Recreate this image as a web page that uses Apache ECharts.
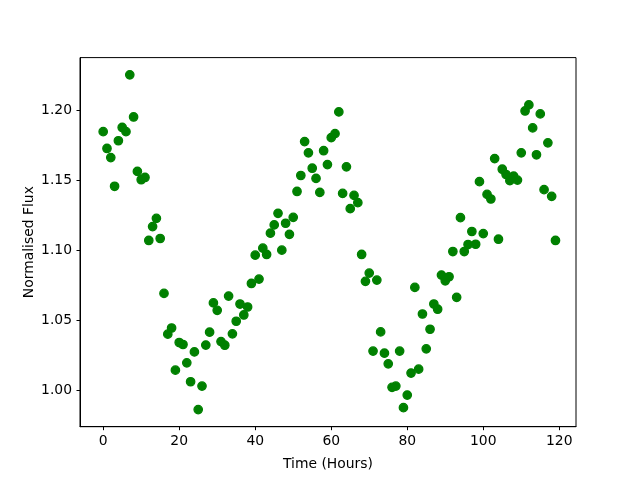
<!DOCTYPE html>
<html>
<head>
<meta charset="utf-8">
<script src="https://cdn.jsdelivr.net/npm/echarts@6/dist/echarts.min.js"></script>
<style>
html,body{margin:0;padding:0;background:#fff;}
#chart{width:640px;height:480px;}
</style>
</head>
<body>
<div id="chart"></div>
<script>
// Time (hours) for each sample
var hours = [0,1,2,3,4,5,6,7,8,9,10,11,12,13,14,15,16,17,18,19,
  20,21,22,23,24,25,26,27,28,29,30,31,32,33,34,35,36,37,38,39,
  40,41,42,43,44,45,46,47,48,49,50,51,52,53,54,55,56,57,58,59,
  60,61,62,63,64,65,66,67,68,69,70,71,72,73,74,75,76,77,78,79,
  80,81,82,83,84,85,86,87,88,89,90,91,92,93,94,95,96,97,98,99,
  100,101,102,103,104,105,106,107,108,109,110,111,112,113,114,115,116,117,118,119];

// Normalised flux values
var flux = [1.185,1.173,1.1665,1.146,1.1785,1.188,1.185,1.2256,1.1955,1.1566,
  1.1507,1.1523,1.1073,1.1172,1.1231,1.1087,1.0695,1.0404,1.0448,1.0147,
  1.0344,1.033,1.0199,1.0064,1.0277,0.9865,1.0033,1.0326,1.0418,1.0627,
  1.0574,1.0351,1.0325,1.0676,1.0406,1.0496,1.0619,1.0541,1.0598,1.0766,
  1.0968,1.0797,1.1018,1.0973,1.1125,1.1184,1.1267,1.1004,1.1196,1.1117,
  1.1238,1.1423,1.1537,1.1779,1.1699,1.1589,1.1516,1.1416,1.1714,1.1615,
  1.1807,1.1836,1.1991,1.1409,1.1599,1.1300,1.1395,1.1343,1.0973,1.0781,
  1.0840,1.0283,1.0790,1.0420,1.0268,1.0192,1.0024,1.0033,1.0283,0.9879,
  0.9969,1.0126,1.0738,1.0154,1.0548,1.0299,1.0439,1.0619,1.0582,1.0826,
  1.0785,1.0814,1.0994,1.0667,1.1236,1.0994,1.1044,1.1137,1.1046,1.1493,
  1.1122,1.1402,1.1369,1.1658,1.1082,1.1582,1.1544,1.1500,1.1532,1.1504,
  1.1699,1.1998,1.2041,1.1877,1.1685,1.1977,1.1436,1.1770,1.1388,1.1073];

// Tick values
var xTicks = [0,20,40,60,80,100,120];
var yTicks = [1.00,1.05,1.10,1.15,1.20];

var points = hours.map(function(h,i){ return [h, flux[i]]; });

var font = 'DejaVu Sans';
var chart = echarts.init(document.getElementById('chart'), null, {renderer:'canvas'});
chart.setOption({
  animation: false,
  backgroundColor: '#ffffff',
  grid: {left: 80, right: 64, top: 57.6, bottom: 53.3, show: true,
         borderColor: '#000', borderWidth: 1, backgroundColor: 'transparent'},
  xAxis: {
    type: 'value', min: -6.1, max: 124.4,
    name: 'Time (Hours)', nameLocation: 'middle', nameGap: 31, nameMoveOverlap: false,
    nameTextStyle: {color: '#000', fontFamily: font, fontSize: 13.9},
    axisLine: {show: true, onZero: false, lineStyle: {color: '#000', width: 1}},
    axisTick: {show: true, length: 3.5, inside: false, customValues: xTicks,
               lineStyle: {color: '#000', width: 1}},
    axisLabel: {show: true, customValues: xTicks, margin: 8, color: '#000',
                fontFamily: font, fontSize: 13.9,
                formatter: function(v){ return String(Math.round(v)); }},
    splitLine: {show: false}
  },
  yAxis: {
    type: 'value', min: 0.9743, max: 1.2379,
    name: 'Normalised Flux', nameLocation: 'middle', nameGap: 44, nameRotate: 90,
    nameMoveOverlap: false,
    nameTextStyle: {color: '#000', fontFamily: font, fontSize: 13.9},
    axisLine: {show: true, onZero: false, lineStyle: {color: '#000', width: 1}},
    axisTick: {show: true, length: 3.5, inside: false, customValues: yTicks,
               lineStyle: {color: '#000', width: 1}},
    axisLabel: {show: true, customValues: yTicks, margin: 8, color: '#000',
                fontFamily: font, fontSize: 13.9,
                formatter: function(v){ return v.toFixed(2); }},
    splitLine: {show: false}
  },
  series: [{
    type: 'scatter',
    data: points,
    symbol: 'circle',
    symbolSize: 8.4,
    itemStyle: {color: '#008000', borderColor: '#008000', borderWidth: 1.3, opacity: 1}
  }]
});
</script>
</body>
</html>
